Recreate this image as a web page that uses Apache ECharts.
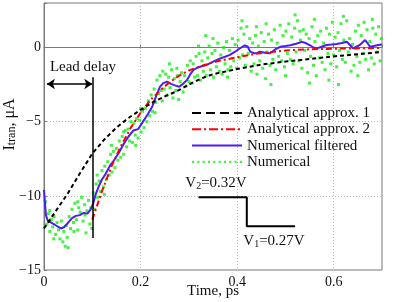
<!DOCTYPE html>
<html><head><meta charset="utf-8">
<script src="https://cdn.jsdelivr.net/npm/echarts@6/dist/echarts.min.js"></script>
<style>html,body{margin:0;padding:0;background:#fff}#c{width:403px;height:302px}</style>
</head><body><div id="c"></div>
<script>
const FONT = '"Liberation Serif", "DejaVu Serif", serif';
const xTicks = [0, 0.2, 0.4, 0.6];
const yTicks = [-15, -10, -5, 0];
const legendNames = ['Analytical approx. 1', 'Analytical approx. 2', 'Numerical filtered', 'Numerical'];

// Analytical approx. 1 (black dashed)
const approx1X = [0, 0.025, 0.05, 0.075, 0.1, 0.125, 0.15, 0.175, 0.2, 0.225, 0.25, 0.275, 0.3, 0.325, 0.35, 0.4, 0.45, 0.5, 0.55, 0.6, 0.65, 0.7];
const approx1Y = [-12.2, -11.0, -9.8, -8.45, -7.15, -6.2, -5.4, -4.75, -4.2, -3.7, -3.3, -2.95, -2.5, -2.1, -1.8, -1.45, -1.15, -0.95, -0.78, -0.6, -0.45, -0.3];

// Analytical approx. 2 (red dash-dot)
const approx2X = [0.1, 0.12, 0.14, 0.16, 0.18, 0.2, 0.22, 0.24, 0.26, 0.28, 0.3, 0.33, 0.36, 0.4, 0.44, 0.5, 0.55, 0.6, 0.7];
const approx2Y = [-11.6, -9.7, -8.0, -6.6, -5.4, -4.4, -3.55, -2.9, -2.35, -1.9, -1.55, -1.2, -0.92, -0.65, -0.42, -0.2, -0.12, -0.08, -0.03];

// Numerical filtered (blue)
const filteredX = [0, 0.004, 0.008, 0.015, 0.025, 0.035, 0.042, 0.05, 0.058, 0.066, 0.074, 0.082, 0.09, 0.097, 0.102, 0.107, 0.113, 0.12, 0.128, 0.136, 0.145, 0.155, 0.165, 0.175, 0.185, 0.195, 0.205, 0.215, 0.224, 0.232, 0.24, 0.247, 0.255, 0.263, 0.271, 0.28, 0.288, 0.296, 0.303, 0.31, 0.318, 0.325, 0.335, 0.344, 0.354, 0.364, 0.375, 0.385, 0.395, 0.406, 0.416, 0.422, 0.427, 0.435, 0.44, 0.447, 0.458, 0.468, 0.478, 0.489, 0.5, 0.51, 0.522, 0.534, 0.542, 0.551, 0.558, 0.565, 0.575, 0.585, 0.595, 0.606, 0.617, 0.627, 0.634, 0.64, 0.647, 0.654, 0.66, 0.665, 0.67, 0.675, 0.683, 0.692, 0.7];
const filteredY = [-9.6, -11.3, -11.7, -11.8, -12.0, -12.2, -12.1, -11.8, -11.5, -11.35, -11.3, -11.15, -11.2, -10.9, -10.5, -9.9, -9.4, -8.9, -8.5, -8.0, -7.6, -7.1, -6.5, -6.0, -5.6, -5.5, -5.0, -4.5, -4.0, -3.3, -2.65, -2.4, -2.3, -2.45, -2.55, -2.65, -2.45, -2.2, -1.8, -1.5, -1.35, -1.28, -1.2, -1.05, -0.9, -0.75, -0.62, -0.5, -0.3, -0.05, 0.15, 0.05, -0.28, -0.38, -0.39, -0.28, -0.35, -0.39, -0.15, 0.05, 0.1, 0.15, 0.25, 0.38, 0.3, 0.15, 0.0, -0.06, 0.05, 0.17, 0.2, 0.24, 0.3, 0.39, 0.15, -0.06, 0.05, 0.17, 0.35, 0.5, 0.3, 0.05, 0.1, 0.17, 0.2];

// Numerical (green points) [time, current]
const numericalPts = [
[0.003,-10.4],[0.006,-11.9],[0.009,-11.2],[0.012,-12.4],[0.015,-11.6],[0.018,-12.1],[0.021,-11.4],[0.024,-12.6],[0.027,-11.8],[0.03,-12.3],[0.033,-12.9],[0.036,-11.7],[0.039,-13.1],[0.041,-12.4],[0.044,-13.4],[0.046,-12.0],[0.048,-12.8],[0.05,-13.5],[0.052,-11.4],[0.055,-12.2],[0.058,-10.9],[0.061,-11.8],[0.064,-10.5],[0.067,-11.6],[0.07,-12.3],[0.072,-10.8],[0.075,-11.1],[0.078,-10.1],[0.081,-11.7],[0.084,-10.6],[0.087,-12.5],[0.089,-11.0],[0.092,-10.3],[0.095,-11.9],[0.097,-10.8],[0.099,-12.2],
[0.012,-11.0],[0.02,-12.9],[0.062,-12.4],[0.085,-11.3],[0.07,-10.4],
[0.102,-9.8],[0.105,-10.9],[0.108,-9.2],[0.111,-10.1],[0.114,-9.0],[0.117,-9.7],[0.12,-8.3],[0.123,-9.4],[0.126,-8.0],[0.129,-8.9],[0.132,-7.7],[0.135,-8.6],[0.138,-7.2],[0.141,-8.4],[0.144,-7.0],[0.147,-8.1],[0.15,-6.8],[0.153,-7.6],[0.156,-6.3],[0.159,-7.4],[0.162,-6.0],[0.165,-7.2],[0.168,-5.6],[0.171,-6.7],[0.174,-5.5],[0.177,-6.3],[0.18,-5.0],[0.183,-6.4],[0.186,-5.1],[0.189,-5.9],[0.192,-4.8],[0.195,-6.1],[0.198,-4.9],[0.201,-5.7],[0.204,-4.3],[0.207,-5.4],[0.21,-4.1],[0.213,-5.0],[0.216,-3.6],[0.219,-4.6],[0.222,-3.2],[0.225,-4.3],[0.228,-2.8],[0.231,-3.7],[0.234,-2.2],[0.237,-3.1],[0.24,-1.9],[0.243,-2.9],[0.246,-1.6],[0.249,-2.8],[0.252,-1.8],[0.255,-3.2],[0.258,-2.0],[0.261,-2.7],[0.264,-1.5],[0.267,-3.4],[0.27,-2.1],[0.273,-2.9],[0.276,-1.9],[0.279,-3.5],[0.282,-2.3],[0.285,-1.7],[0.288,-3.0],[0.291,-1.9],[0.294,-2.6],[0.297,-1.2],[0.3,-2.3],
[0.11,-8.6],[0.125,-9.9],[0.14,-6.6],[0.165,-5.7],[0.19,-6.6],[0.2,-4.1],[0.23,-4.4],[0.245,-3.6],[0.26,-1.1],[0.275,-1.4],
[0.303,-0.9],[0.306,-2.4],[0.309,-1.1],[0.312,-2.0],[0.315,-0.6],[0.318,-1.9],[0.321,-0.4],[0.324,-2.2],[0.327,-0.9],[0.33,-1.6],[0.333,-0.3],[0.336,-1.9],[0.339,-0.7],[0.342,0.1],[0.345,-1.5],[0.348,-0.4],[0.351,-2.0],[0.354,-0.2],[0.357,-1.3],[0.36,0.3],[0.363,-1.6],[0.366,-0.5],[0.369,-1.8],[0.372,0.0],[0.375,-1.1],[0.378,0.4],[0.381,-1.5],[0.384,-0.2],[0.387,-1.3],[0.39,0.6],[0.393,-0.9],[0.396,0.2],[0.399,-1.4],[0.402,0.5],[0.405,-0.7],[0.408,1.3],[0.411,-0.5],[0.414,0.9],[0.417,-1.2],[0.42,1.4],[0.423,-0.4],[0.426,0.6],[0.429,-1.6],[0.432,0.3],[0.435,-1.1],[0.438,0.8],[0.441,-1.8],[0.444,0.1],[0.447,-0.9],[0.45,1.0],[0.453,-1.4],[0.456,0.4],[0.459,-2.1],[0.462,-0.3],[0.465,0.9],[0.468,-1.2],[0.471,0.5],[0.474,-0.8],[0.477,1.2],[0.48,-1.5],[0.483,0.3],[0.486,-0.6],[0.489,1.5],[0.492,-0.9],[0.495,0.8],[0.498,-1.3],[0.501,1.1],[0.504,-0.4],[0.507,1.6],[0.51,-0.8],[0.513,0.7],[0.516,-1.1],[0.519,1.3],[0.522,-0.3],[0.525,1.8],[0.528,-0.9],[0.531,0.5],[0.534,-1.4],[0.537,1.2],[0.54,-0.2],[0.543,0.9],[0.546,-1.7],[0.549,0.6],[0.552,-0.6],[0.555,1.4],[0.558,-1.2],[0.561,0.4],[0.564,-1.9],[0.567,0.8],[0.57,-0.7],[0.573,1.1],[0.576,-1.0],[0.579,0.3],[0.582,-1.5],[0.585,1.3],[0.588,-0.4],[0.591,0.9],[0.594,-1.1],[0.597,1.7],[0.6,-0.5],[0.603,0.7],[0.606,-1.3],[0.609,1.0],[0.612,-0.2],[0.615,1.6],[0.618,-0.8],[0.621,0.5],[0.624,-1.0],[0.627,1.8],[0.63,-0.3],[0.633,0.6],[0.636,-1.6],[0.639,0.2],[0.642,-1.2],[0.645,1.1],[0.648,-0.6],[0.651,1.5],[0.654,-1.0],[0.657,0.8],[0.66,-0.4],[0.663,1.7],[0.666,-0.8],[0.669,1.2],[0.672,-1.5],[0.675,0.4],[0.678,-0.7],[0.681,1.3],[0.684,-1.1],[0.687,0.9],[0.69,-0.3],[0.693,1.4],[0.696,-0.9],[0.699,0.6],
[0.32,0.1],[0.35,0.6],[0.38,-2.0],[0.41,1.8],[0.44,1.4],[0.47,-2.5],[0.5,-1.9],[0.53,1.1],[0.56,1.9],[0.59,-2.2],[0.62,2.1],[0.65,-1.9],[0.68,1.9],[0.46,1.6],[0.55,-2.4],[0.61,-2.5],[0.335,0.8],[0.52,2.2]
];

// Inset: voltage step V2 -> V1 (drawn in data coordinates)
const stepX = [0.32, 0.42, 0.42, 0.52];
const stepY = [-10.1, -10.1, -12.05, -12.05];
// Lead delay markers
const leadDelayT = 0.1;
const leadLineY = [-2.0, -12.85];
const leadArrowX = [0.006, 0.1];
const leadArrowY = -2.46;

const pairs = (xs, ys) => xs.map((x, i) => [x, ys[i]]);
const fmtTick = (ticks) => (v) => {
  const t = ticks.find(k => Math.abs(k - v) < 1e-9);
  if (t === undefined) return '';
  return String(t).replace('-', '\u2212');
};
const hideSym = {opacity: 0};

const chart = echarts.init(document.getElementById('c'), null, {renderer: 'canvas'});
chart.setOption({
  animation: false,
  backgroundColor: '#fff',
  textStyle: {fontFamily: FONT},
  grid: {left: 44, right: 21, top: 3, bottom: 32, show: true, borderColor: '#7a7a7a', borderWidth: 1, containLabel: false, outerBoundsMode: 'none'},
  xAxis: {
    type: 'value', min: 0, max: 0.7, interval: 0.2,
    name: 'Time, ps', nameLocation: 'middle', nameGap: 14, nameMoveOverlap: false,
    nameTextStyle: {fontFamily: FONT, fontSize: 15, color: '#111'},
    axisLine: {show: true, lineStyle: {color: '#7a7a7a'}},
    axisTick: {show: true, inside: true, length: 3, lineStyle: {color: '#7a7a7a'}},
    axisLabel: {formatter: fmtTick(xTicks), fontFamily: FONT, fontSize: 14, color: '#111', margin: 5, showMaxLabel: true},
    splitLine: {show: true, lineStyle: {color: '#b8b8b8', type: [1, 2], width: 1}}
  },
  yAxis: {
    type: 'value', min: -15, max: 3, interval: 5,
    name: '{m|I}{s|tran}{m|, \u03bcA}', nameLocation: 'middle', nameGap: 26, nameRotate: 90, nameMoveOverlap: false,
    nameTextStyle: {fontFamily: FONT, fontSize: 16, color: '#111', padding: [0, 0, 0, 24],
      rich: {m: {fontFamily: FONT, fontSize: 16, color: '#111', lineHeight: 17},
             s: {fontFamily: FONT, fontSize: 12, color: '#111', lineHeight: 9, verticalAlign: 'bottom'}}},
    axisLine: {show: true, lineStyle: {color: '#7a7a7a'}},
    axisTick: {show: true, inside: true, length: 3, lineStyle: {color: '#7a7a7a'}},
    axisLabel: {formatter: fmtTick(yTicks), fontFamily: FONT, fontSize: 14, color: '#111', margin: 3},
    splitLine: {show: true, lineStyle: {color: '#b8b8b8', type: [1, 2], width: 1}}
  },
  legend: {
    orient: 'vertical', left: 186, top: 100, itemWidth: 50, itemHeight: 14, itemGap: 0.3,
    textStyle: {fontFamily: FONT, fontSize: 15, color: '#111', lineHeight: 16},
    data: [
      {name: legendNames[0], itemStyle: hideSym, lineStyle: {type: [9, 5], width: 2, color: '#000'}},
      {name: legendNames[1], itemStyle: hideSym, lineStyle: {type: [9, 3, 2, 3], width: 2, color: '#ff0000'}},
      {name: legendNames[2], itemStyle: hideSym, lineStyle: {type: 'solid', width: 2, color: '#4b1cf5'}},
      {name: legendNames[3], icon: 'path://M0,0h2v2h-2z M5,0h2v2h-2z M10,0h2v2h-2z M15,0h2v2h-2z M20,0h2v2h-2z M25,0h2v2h-2z M30,0h2v2h-2z M35,0h2v2h-2z M40,0h2v2h-2z M45,0h2v2h-2z'}
    ]
  },
  graphic: [
    {type: 'text', x: 83, y: 67, style: {text: 'Lead delay', fontFamily: FONT, fontSize: 15, fill: '#111', align: 'center', verticalAlign: 'middle'}},
    {type: 'text', x: 216, y: 183, style: {text: 'V{s|2}=0.32V', fontFamily: FONT, fontSize: 15, lineHeight: 16, fill: '#111', align: 'center', verticalAlign: 'middle',
      rich: {s: {fontFamily: FONT, fontSize: 10, lineHeight: 8, verticalAlign: 'bottom', fill: '#111'}}}},
    {type: 'text', x: 274, y: 241, style: {text: 'V{s|1}=0.27V', fontFamily: FONT, fontSize: 15, lineHeight: 16, fill: '#111', align: 'center', verticalAlign: 'middle',
      rich: {s: {fontFamily: FONT, fontSize: 10, lineHeight: 8, verticalAlign: 'bottom', fill: '#111'}}}}
  ],
  series: [
    {name: legendNames[3], type: 'scatter', data: numericalPts, symbol: 'rect', symbolSize: 3, itemStyle: {color: '#15ee15'}, z: 1},
    {name: legendNames[2], type: 'line', data: pairs(filteredX, filteredY), symbol: 'none', lineStyle: {color: '#4b1cf5', width: 2}, itemStyle: {color: '#4b1cf5'}, z: 2},
    {name: legendNames[1], type: 'line', data: pairs(approx2X, approx2Y), symbol: 'none', lineStyle: {color: '#ff0000', width: 2, type: [6, 3, 2, 3]}, itemStyle: {color: '#ff0000'}, z: 3},
    {name: legendNames[0], type: 'line', data: pairs(approx1X, approx1Y), symbol: 'none', lineStyle: {color: '#000', width: 2, type: [4, 3]}, itemStyle: {color: '#000'}, z: 4},
    {name: 'step', type: 'line', data: pairs(stepX, stepY), symbol: 'none', lineStyle: {color: '#000', width: 2}, z: 5,
      markLine: {
        silent: true, symbolSize: 8, animation: false,
        label: {show: false},
        lineStyle: {color: '#000', width: 1.5, type: 'solid'},
        data: [
          [{coord: [leadDelayT, leadLineY[0]], symbol: 'none'}, {coord: [leadDelayT, leadLineY[1]], symbol: 'none'}],
          [{coord: [leadArrowX[0], leadArrowY], symbol: 'arrow'}, {coord: [leadArrowX[1], leadArrowY], symbol: 'arrow'}]
        ]
      }}
  ]
});
</script>
</body></html>
